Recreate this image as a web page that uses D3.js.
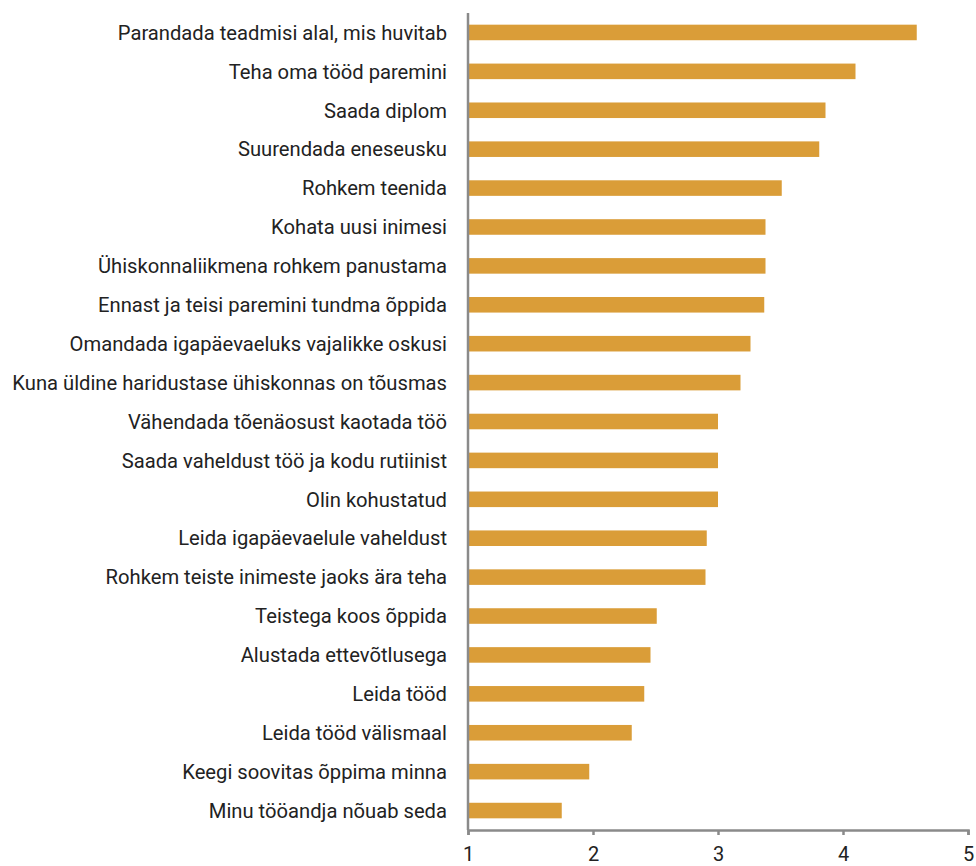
<!DOCTYPE html>
<html>
<head>
<meta charset="utf-8">
<script src="https://cdn.jsdelivr.net/npm/d3@7"></script>
<style>
  body { margin: 0; background: #fff; }
  text { font-family: Roboto, sans-serif; fill: #222; }
</style>
</head>
<body>
<svg id="chart" width="976" height="866"></svg>
<script>
const categories = [
  'Parandada teadmisi alal, mis huvitab',
  'Teha oma tööd paremini',
  'Saada diplom',
  'Suurendada eneseusku',
  'Rohkem teenida',
  'Kohata uusi inimesi',
  'Ühiskonnaliikmena rohkem panustama',
  'Ennast ja teisi paremini tundma õppida',
  'Omandada igapäevaeluks vajalikke oskusi',
  'Kuna üldine haridustase ühiskonnas on tõusmas',
  'Vähendada tõenäosust kaotada töö',
  'Saada vaheldust töö ja kodu rutiinist',
  'Olin kohustatud',
  'Leida igapäevaelule vaheldust',
  'Rohkem teiste inimeste jaoks ära teha',
  'Teistega koos õppida',
  'Alustada ettevõtlusega',
  'Leida tööd',
  'Leida tööd välismaal',
  'Keegi soovitas õppima minna',
  'Minu tööandja nõuab seda'
];
const values = [4.59, 4.10, 3.86, 3.81, 3.51, 3.38, 3.38, 3.37, 3.26, 3.18,
  3.00, 3.00, 3.00, 2.91, 2.90, 2.51, 2.46, 2.41, 2.31, 1.97, 1.75];
const ticks = [1, 2, 3, 4, 5];

const data = categories.map((c, i) => ({name: c, value: values[i]}));

const svg = d3.select('#chart');
const margin = {left: 468, right: 8, top: 13, bottom: 36};
const width = 976, height = 866;

const x = d3.scaleLinear().domain([1, 5]).range([margin.left, 968]);
const y = d3.scaleBand()
  .domain(categories)
  .range([margin.top, height - margin.bottom])
  .paddingInner(0.6)
  .paddingOuter(0.3);

// bars
svg.append('g').selectAll('rect')
  .data(data)
  .enter().append('rect')
    .attr('x', x(1))
    .attr('y', d => y(d.name))
    .attr('width', d => x(d.value) - x(1))
    .attr('height', y.bandwidth())
    .attr('fill', '#da9d38');

// category labels
svg.append('g').selectAll('text')
  .data(data)
  .enter().append('text')
    .attr('x', margin.left - 21)
    .attr('y', d => y(d.name) + y.bandwidth() / 2)
    .attr('dy', '0.36em')
    .attr('text-anchor', 'end')
    .attr('font-size', 20.2)
    .text(d => d.name);

// axes
const axisY = height - margin.bottom;
const gx = svg.append('g')
  .attr('transform', `translate(0,${axisY})`)
  .call(d3.axisBottom(x).tickValues(ticks).tickFormat(d3.format('d')).tickSize(5).tickPadding(12));
gx.select('.domain').attr('stroke', '#8a8a8a').attr('stroke-width', 2.5);
gx.selectAll('.tick line').attr('stroke', '#8a8a8a').attr('stroke-width', 2.5);
gx.selectAll('.tick text').attr('font-size', 20).attr('fill', '#222');

svg.append('line')
  .attr('x1', x(1)).attr('x2', x(1))
  .attr('y1', margin.top).attr('y2', axisY)
  .attr('stroke', '#8a8a8a')
  .attr('stroke-width', 2.5);
</script>
</body>
</html>
